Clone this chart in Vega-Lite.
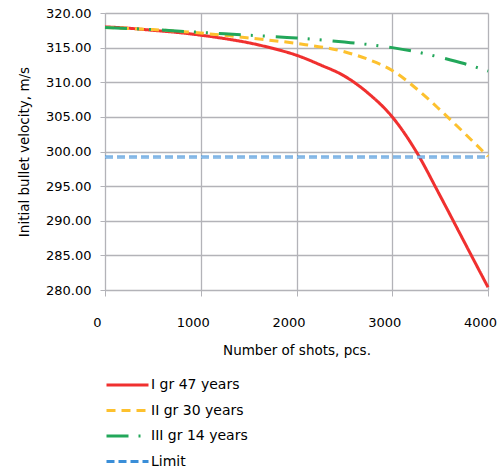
{
  "$schema": "https://vega.github.io/schema/vega-lite/v6.json",
  "width": 383,
  "height": 277,
  "autosize": "none",
  "padding": {"left": 105, "top": 13, "right": 11, "bottom": 180},
  "config": {
    "font": "DejaVu Sans",
    "view": {"stroke": null}
  },
  "data": {
    "values": [
      {"shots": 0, "v": 318.0, "s": "I gr 47 years"},
      {"shots": 250, "v": 317.8, "s": "I gr 47 years"},
      {"shots": 500, "v": 317.5, "s": "I gr 47 years"},
      {"shots": 750, "v": 317.2, "s": "I gr 47 years"},
      {"shots": 1000, "v": 316.8, "s": "I gr 47 years"},
      {"shots": 1250, "v": 316.3, "s": "I gr 47 years"},
      {"shots": 1500, "v": 315.7, "s": "I gr 47 years"},
      {"shots": 1750, "v": 314.9, "s": "I gr 47 years"},
      {"shots": 2000, "v": 313.9, "s": "I gr 47 years"},
      {"shots": 2250, "v": 312.5, "s": "I gr 47 years"},
      {"shots": 2500, "v": 310.9, "s": "I gr 47 years"},
      {"shots": 2750, "v": 308.4, "s": "I gr 47 years"},
      {"shots": 3000, "v": 305.0, "s": "I gr 47 years"},
      {"shots": 3250, "v": 300.0, "s": "I gr 47 years"},
      {"shots": 3500, "v": 293.6, "s": "I gr 47 years"},
      {"shots": 3750, "v": 287.0, "s": "I gr 47 years"},
      {"shots": 4000, "v": 280.4, "s": "I gr 47 years"},
      {"shots": 0, "v": 317.9, "s": "II gr 30 years"},
      {"shots": 500, "v": 317.6, "s": "II gr 30 years"},
      {"shots": 1000, "v": 317.1, "s": "II gr 30 years"},
      {"shots": 1500, "v": 316.4, "s": "II gr 30 years"},
      {"shots": 2000, "v": 315.6, "s": "II gr 30 years"},
      {"shots": 2500, "v": 314.4, "s": "II gr 30 years"},
      {"shots": 2750, "v": 313.3, "s": "II gr 30 years"},
      {"shots": 3000, "v": 311.7, "s": "II gr 30 years"},
      {"shots": 3250, "v": 309.1, "s": "II gr 30 years"},
      {"shots": 3500, "v": 306.0, "s": "II gr 30 years"},
      {"shots": 3750, "v": 302.7, "s": "II gr 30 years"},
      {"shots": 4000, "v": 299.3, "s": "II gr 30 years"},
      {"shots": 0, "v": 317.9, "s": "III gr 14 years"},
      {"shots": 500, "v": 317.6, "s": "III gr 14 years"},
      {"shots": 1000, "v": 317.2, "s": "III gr 14 years"},
      {"shots": 1500, "v": 316.8, "s": "III gr 14 years"},
      {"shots": 2000, "v": 316.4, "s": "III gr 14 years"},
      {"shots": 2500, "v": 315.8, "s": "III gr 14 years"},
      {"shots": 3000, "v": 315.0, "s": "III gr 14 years"},
      {"shots": 3250, "v": 314.4, "s": "III gr 14 years"},
      {"shots": 3500, "v": 313.6, "s": "III gr 14 years"},
      {"shots": 3750, "v": 312.7, "s": "III gr 14 years"},
      {"shots": 4000, "v": 311.6, "s": "III gr 14 years"},
      {"shots": 0, "v": 299.2, "s": "Limit"},
      {"shots": 4000, "v": 299.2, "s": "Limit"}
    ]
  },
  "encoding": {
    "x": {
      "field": "shots",
      "type": "quantitative",
      "scale": {"domain": [0, 4000], "nice": false},
      "axis": {
        "values": [0, 1000, 2000, 3000, 4000],
        "format": "d",
        "labelOffset": -8,
        "title": "Number of shots, pcs.",
        "titleFontSize": 13.5,
        "titleFontWeight": "normal",
        "titleColor": "#000000",
        "titlePadding": 14,
        "labelFontSize": 13,
        "labelColor": "#000000",
        "labelPadding": 20,
        "labelFlush": false,
        "labelOverlap": false,
        "tickSize": 6,
        "tickColor": "#b3b3b8",
        "domainColor": "#b3b3b8",
        "gridColor": "#b3b3b8",
        "gridWidth": 1.3,
        "grid": true
      }
    },
    "y": {
      "field": "v",
      "type": "quantitative",
      "scale": {"domain": [280, 320], "nice": false, "zero": false},
      "axis": {
        "values": [280, 285, 290, 295, 300, 305, 310, 315, 320],
        "format": ".2f",
        "title": "Initial bullet velocity, m/s",
        "titleFontSize": 13.5,
        "titleFontWeight": "normal",
        "titleColor": "#000000",
        "titlePadding": 14,
        "labelFontSize": 13,
        "labelColor": "#000000",
        "labelPadding": 9,
        "tickSize": 5,
        "tickColor": "#b3b3b8",
        "domainColor": "#b3b3b8",
        "gridColor": "#b3b3b8",
        "gridWidth": 1.3,
        "grid": true
      }
    }
  },
  "layer": [
    {
      "mark": {"type": "line", "interpolate": "monotone", "strokeCap": "butt"},
      "encoding": {
        "color": {
          "field": "s",
          "type": "nominal",
          "scale": {
            "domain": ["I gr 47 years", "II gr 30 years", "III gr 14 years", "Limit"],
            "range": ["#f0302f", "#fdc12e", "#22a75a", "#3a8ed8"]
          },
          "legend": {
            "title": null,
            "orient": "none",
            "legendX": 0,
            "legendY": 360,
            "symbolType": "M-1,0H3",
            "symbolSize": 441,
            "symbolStrokeWidth": 3,
            "labelFontSize": 14,
            "labelColor": "#000000",
            "labelOffset": 22,
            "rowPadding": 6.5,
            "labelLimit": 300
          }
        },
        "strokeDash": {
          "field": "s",
          "type": "nominal",
          "scale": {
            "domain": ["I gr 47 years", "II gr 30 years", "III gr 14 years", "Limit"],
            "range": [[1, 0], [9, 6], [22, 10, 2, 10, 2, 11], [8, 4]]
          },
          "legend": null
        },
        "strokeWidth": {
          "field": "s",
          "type": "nominal",
          "scale": {
            "domain": ["I gr 47 years", "II gr 30 years", "III gr 14 years", "Limit"],
            "range": [3, 3, 3, 4]
          },
          "legend": null
        }
      }
    },
    {
      "transform": [{"filter": "datum.s === 'Limit'"}],
      "mark": {"type": "line", "strokeWidth": 1, "color": "#d2e4f6", "strokeDash": [8, 4]},
      "encoding": {}
    }
  ]
}
